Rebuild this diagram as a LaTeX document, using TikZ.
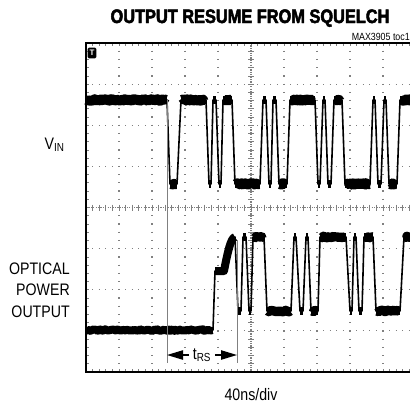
\documentclass[tikz,border=0pt]{standalone}
\usepackage{fontspec}
\setmainfont{Liberation Sans}
\newfontfamily\condfont{Liberation Sans}[FakeStretch=0.85]
\newfontfamily\titlefont{Liberation Sans}[FakeStretch=0.84,FakeBold=2.5]
\usetikzlibrary{arrows.meta}
\usetikzlibrary{decorations.pathmorphing}
\definecolor{gridgray}{gray}{0.5}
\definecolor{markgray}{gray}{0.5}

\tikzset{
  gridline/.style={gridgray, line width=0.9pt},
  gridtick/.style={gridgray, line width=0.5pt},
  frame/.style={black, line width=2.2pt},
  trace/.style={black, line width=1.2pt, line join=round},
  band/.style={black, line width=#1, line join=round},
  band/.default=7pt,
  noisy/.style={decorate, decoration={random steps, segment length=0.9pt, amplitude=0.6pt}},
  rsline/.style={markgray, line width=0.6pt},
  dimarrow/.style={-{Triangle[length=12pt,width=7pt]}, line width=0.9pt},
  sidetext/.style={font=\condfont\fontsize{12.5}{16.1}\selectfont, inner sep=0pt},
  trigmark/.style={fill=black, text=white, rounded corners=1pt, inner sep=0.6pt,
    minimum width=6.5pt, minimum height=8pt, font=\bfseries\fontsize{6}{6}\selectfont},
}

% plateaus of the traces: start/end/level (in px of the screen)
\def\vinwave{86/167/100, 170/177/184, 181/206/100, 209/211/184, 213/216/100,
  219/221/184, 223/232/100, 235/260/184, 263/266/100, 269/271/184, 273/276/100,
  279/287/184, 290/315/100, 318/320/184, 323/325/100, 328/331/184, 334/342/100,
  345/370/184, 373/375/100, 378/381/184, 384/386/100, 389/397/184, 400/412/100}
\def\optwave{238/241/311, 243/246/237, 249/251/311, 253/264/237, 267/291/311,
  294/296/237, 300/303/311, 306/308/237, 311/318/311, 320/346/237, 350/352/311,
  354/356/237, 359/362/311, 364/373/237, 376/400/311, 404/412/237}

\begin{document}
\begin{tikzpicture}[x=0.75pt, y=-0.75pt]
  \pgfmathsetseed{3905}
  \useasboundingbox (0,0) rectangle (410,408);
  \clip (0,0) rectangle (410,408);

  % graticule
  \foreach \k in {1,2,3,4,6,7,8,9}
    \draw[gridline, dash pattern=on 0.9pt off 5.27pt, dash phase=0.45pt]
      (86+33*\k,43) -- (86+33*\k,372);
  \foreach \k in {1,2,3,5,6,7}
    \draw[gridline, dash pattern=on 0.9pt off 4.05pt, dash phase=0.45pt]
      (86,43+41.125*\k) -- (416,43+41.125*\k);
  \draw[gridline, dash pattern=on 0.9pt off 0.9pt] (251,43) -- (251,372);
  \draw[gridline, dash pattern=on 0.9pt off 0.9pt] (86,207.5) -- (416,207.5);
  \foreach \j in {1,...,39}
    \draw[gridtick] (248,43+8.225*\j) -- (254,43+8.225*\j);
  \foreach \j in {1,...,49} {
    \draw[gridtick] (86+6.6*\j,204.5) -- (86+6.6*\j,210.5);
    \draw[gridtick] (86+6.6*\j,372) -- ++(0,-3);
    \draw[gridtick] (86+6.6*\j,43) -- ++(0,3);
  }
  \foreach \j in {1,...,39}
    \draw[gridtick] (86,43+8.225*\j) -- ++(3,0);
  \draw[frame] (86,43) rectangle (416,372);
  \node[trigmark] (trig) at (92,53) {T};

  % V_IN trace
  \draw[trace] (86,100) \foreach \a/\b/\y in \vinwave { -- (\a,\y) -- (\b,\y) };
  \foreach \a/\b/\y in \vinwave {
    \pgfmathtruncatemacro\wide{(\b-\a)>6}
    \ifnum\wide=1
      \draw[band=7.5pt, noisy] (\a+1,\y) -- (\b-1,\y);
    \fi
    \draw[band=6.5pt] (\a,\y) -- (\b,\y);
  }

  % optical output trace
  \draw[trace] (86,330) -- (213,330) -- (215,271) -- (224,271)
    .. controls (228,250) and (231,238) .. (235,237)
    \foreach \a/\b/\y in \optwave { -- (\a,\y) -- (\b,\y) };
  \draw[band=6pt, noisy] (87,330) -- (212,330);
  \draw[band=5pt] (86,330) -- (213,330);
  \draw[band=6pt] (215,271) -- (224,271) .. controls (228,250) and (231,238) .. (235,237);
  \foreach \a/\b/\y in \optwave {
    \pgfmathtruncatemacro\wide{(\b-\a)>6}
    \ifnum\wide=1
      \draw[band=7pt, noisy] (\a+1,\y) -- (\b-1,\y);
    \fi
    \draw[band=6pt] (\a,\y) -- (\b,\y);
  }

  % t_RS
  \coordinate (rsA) at (167,355);
  \coordinate (rsB) at (237,355);
  \draw[rsline] (167,100) -- (167,363);
  \draw[rsline] (237,240) -- (237,363);
  \node[sidetext, inner sep=2.5pt] (trs) at (202,355) {t\textsubscript{RS}};
  \draw[dimarrow] (trs) -- (rsA);
  \draw[dimarrow] (trs) -- (rsB);

  % texts
  \node[font=\titlefont\bfseries\fontsize{14.6}{16}\selectfont, anchor=base, inner sep=0pt]
    (title) at (250,23) {OUTPUT RESUME FROM SQUELCH};
  \node[font=\condfont\fontsize{7.8}{9}\selectfont, anchor=base east, inner sep=0pt]
    (toc) at (410,40) {MAX3905 toc1};
  \node[sidetext, anchor=base east] (vin) at (65,149) {V\textsubscript{IN}};
  \node[sidetext, anchor=east, align=right] (opt) at (70,290) {OPTICAL\\POWER\\OUTPUT};
  \node[sidetext, anchor=base] (div) at (251,400) {40ns/div};
\end{tikzpicture}
\end{document}
